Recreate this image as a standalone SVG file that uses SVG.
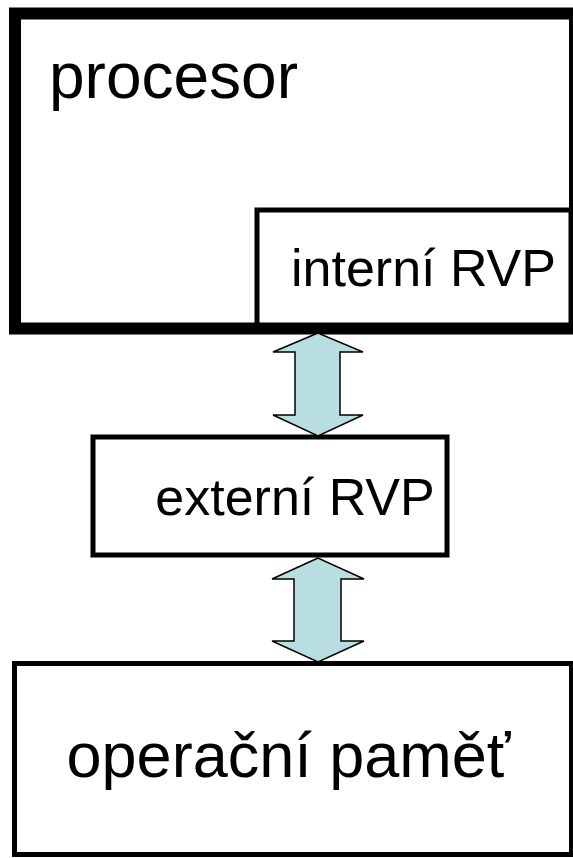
<svg xmlns="http://www.w3.org/2000/svg" width="573" height="858" viewBox="0 0 573 858">
<style>
text{font-family:"Liberation Sans",Arial,sans-serif;fill:#000}
.box{fill:#fff;stroke:#000}
.arrow{fill:#b9dee1;stroke:#000;stroke-width:1.5;stroke-linejoin:miter}
</style>
<rect width="573" height="858" fill="#fff"/>
<g id="procesor">
<rect class="box" x="15" y="13.5" width="560" height="315" stroke-width="12"/>
<text x="49" y="98" font-size="64">procesor</text>
</g>
<g id="interni">
<rect class="box" x="257" y="210" width="314" height="115" stroke-width="5"/>
<text x="291" y="286" font-size="52">interní RVP</text>
</g>
<g id="externi">
<rect class="box" x="93" y="437" width="354" height="118" stroke-width="5"/>
<text x="295" y="515" font-size="52" text-anchor="middle">externí RVP</text>
</g>
<g id="operacni">
<rect class="box" x="14.5" y="663.5" width="557" height="191" stroke-width="5"/>
<text x="288.5" y="777" font-size="63" text-anchor="middle">operační paměť</text>
</g>
<g id="connectors">
<path class="arrow" d="M318,333 L273,352 L295,352 L295,415 L273,415 L318,436 L363,415 L340,415 L340,352 L363,352 Z"/>
<path class="arrow" d="M318,558 L272,579 L294,579 L294,641 L272,641 L318,662 L364,641 L341,641 L341,579 L364,579 Z"/>
</g>
</svg>
